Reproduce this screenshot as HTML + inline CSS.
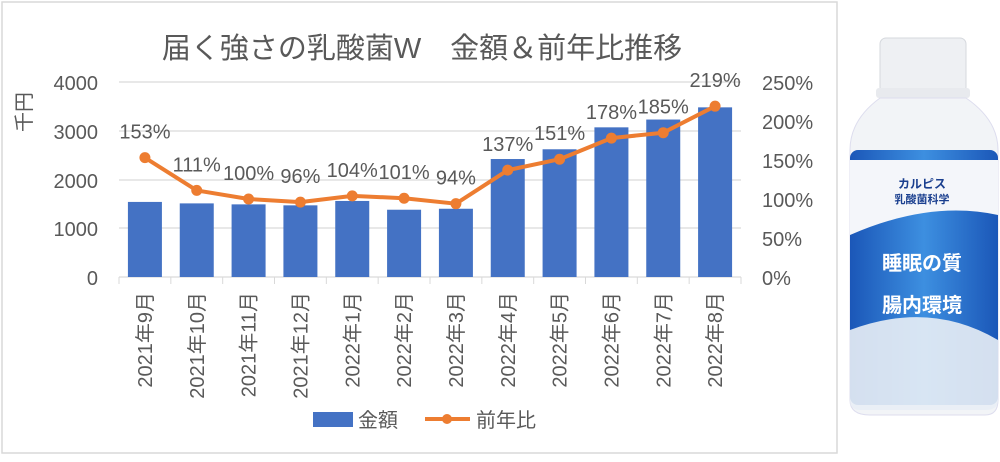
<!DOCTYPE html><html><head><meta charset="utf-8"><style>
body{margin:0;background:#fff;width:1000px;height:457px;overflow:hidden;font-family:"Liberation Sans","Noto Sans CJK JP",sans-serif}
</style></head><body>
<svg width="1000" height="457" xmlns="http://www.w3.org/2000/svg" font-family="Liberation Sans, Noto Sans CJK JP, sans-serif">
<rect x="2" y="2" width="835" height="451" fill="#fff" stroke="#d9d9d9" stroke-width="1.5"/>
<text x="422" y="58" font-size="29" fill="#595959" text-anchor="middle">届く強さの乳酸菌W　金額＆前年比推移</text>
<g stroke="#d9d9d9" stroke-width="1.2">
<line x1="119" y1="82" x2="741" y2="82"/><line x1="119" y1="131" x2="741" y2="131"/><line x1="119" y1="180" x2="741" y2="180"/><line x1="119" y1="228" x2="741" y2="228"/><line x1="119" y1="277" x2="741" y2="277"/>
</g>
<g font-size="20" fill="#595959" text-anchor="end">
<text x="98" y="90">4000</text><text x="98" y="139">3000</text><text x="98" y="188">2000</text><text x="98" y="236">1000</text><text x="98" y="285">0</text>
</g>
<g font-size="20" fill="#595959">
<text x="762" y="90">250%</text><text x="762" y="129">200%</text><text x="762" y="168">150%</text><text x="762" y="207">100%</text><text x="762" y="246">50%</text><text x="762" y="285">0%</text>
</g>
<text transform="translate(31,112) rotate(-90)" font-size="20" fill="#595959" text-anchor="middle">千円</text>
<g fill="#4472c4" id="bars"></g>
<g id="rest"></g>
<g font-size="20" fill="#595959" id="xl"></g>
<rect x="313" y="412" width="40" height="15" fill="#4472c4"/>
<text x="358" y="427" font-size="20" fill="#595959">金額</text>
<line x1="425" y1="419" x2="470" y2="419" stroke="#ed7d31" stroke-width="4"/>
<circle cx="447" cy="419" r="5" fill="#ed7d31"/>
<text x="476" y="427" font-size="20" fill="#595959">前年比</text>
<!-- bottle -->
<defs><linearGradient id="bg" x1="0" x2="1"><stop offset="0" stop-color="#1b57b8"/><stop offset=".5" stop-color="#3d8fe0"/><stop offset="1" stop-color="#1b57b8"/></linearGradient></defs>
<rect x="880" y="38" width="86" height="55" rx="6" fill="#eef0f3" stroke="#d5d8dd"/>
<rect x="876" y="88" width="94" height="10" rx="3" fill="#e8eaee"/>
<path d="M880 98 Q850 120 850 150 L850 400 Q850 415 870 415 L985 415 Q998 415 998 400 L998 150 Q998 120 966 98 Z" fill="#f2f4f7" stroke="#dde"/>
<rect x="850" y="150" width="148" height="255" rx="8" fill="url(#bg)"/>
<path d="M850 160 L998 160 L998 215 Q930 200 850 235 Z" fill="#f4f6fa"/>
<path d="M850 330 Q930 300 998 340 L998 400 Q998 410 985 410 L860 410 Q850 410 850 400Z" fill="#e9eef5" opacity=".9"/>
<text x="922" y="188" font-size="12" fill="#1a3f8f" text-anchor="middle" font-weight="bold">カルピス</text>
<text x="922" y="203" font-size="11" fill="#1a3f8f" text-anchor="middle" font-weight="bold">乳酸菌科学</text>
<text x="922" y="270" font-size="20" fill="#fff" text-anchor="middle" font-weight="bold">睡眠の質</text>
<text x="922" y="312" font-size="20" fill="#fff" text-anchor="middle" font-weight="bold">腸内環境</text>
</svg>
<script>
var v=[1540,1510,1490,1470,1560,1380,1400,2420,2620,3070,3230,3480],p=[153,111,100,96,104,101,94,137,151,178,185,219];
var ns="http://www.w3.org/2000/svg",b=document.getElementById('bars'),r=document.getElementById('rest'),xl=document.getElementById('xl');
function el(t,a,par){var e=document.createElementNS(ns,t);for(var k in a)e.setAttribute(k,a[k]);par.appendChild(e);return e;}
var w=(741-119)/12,pts=[];
var labs=["2021年9月","2021年10月","2021年11月","2021年12月","2022年1月","2022年2月","2022年3月","2022年4月","2022年5月","2022年6月","2022年7月","2022年8月"];
for(var i=0;i<12;i++){var cx=119+w*(i+0.5),h=v[i]/1000*48.75;
el('rect',{x:cx-17,y:277-h,width:34,height:h},b);
var y=277-p[i]/250*195;pts.push(cx+','+y);
el('line',{x1:119+w*i,y1:277,x2:119+w*i,y2:284,stroke:'#d9d9d9'},r);
var t=el('text',{transform:'translate('+(cx+7)+',292) rotate(-90)','text-anchor':'end'},xl);t.textContent=labs[i];}
el('line',{x1:741,y1:277,x2:741,y2:284,stroke:'#d9d9d9'},r);
el('polyline',{points:pts.join(' '),fill:'none',stroke:'#ed7d31','stroke-width':4,'stroke-linejoin':'round'},r);
for(var i=0;i<12;i++){var q=pts[i].split(',');el('circle',{cx:q[0],cy:q[1],r:5.5,fill:'#ed7d31'},r);
var t=el('text',{x:q[0],y:q[1]-19,'font-size':20,fill:'#595959','text-anchor':'middle'},r);t.textContent=p[i]+'%';}
</script>
</body></html>
